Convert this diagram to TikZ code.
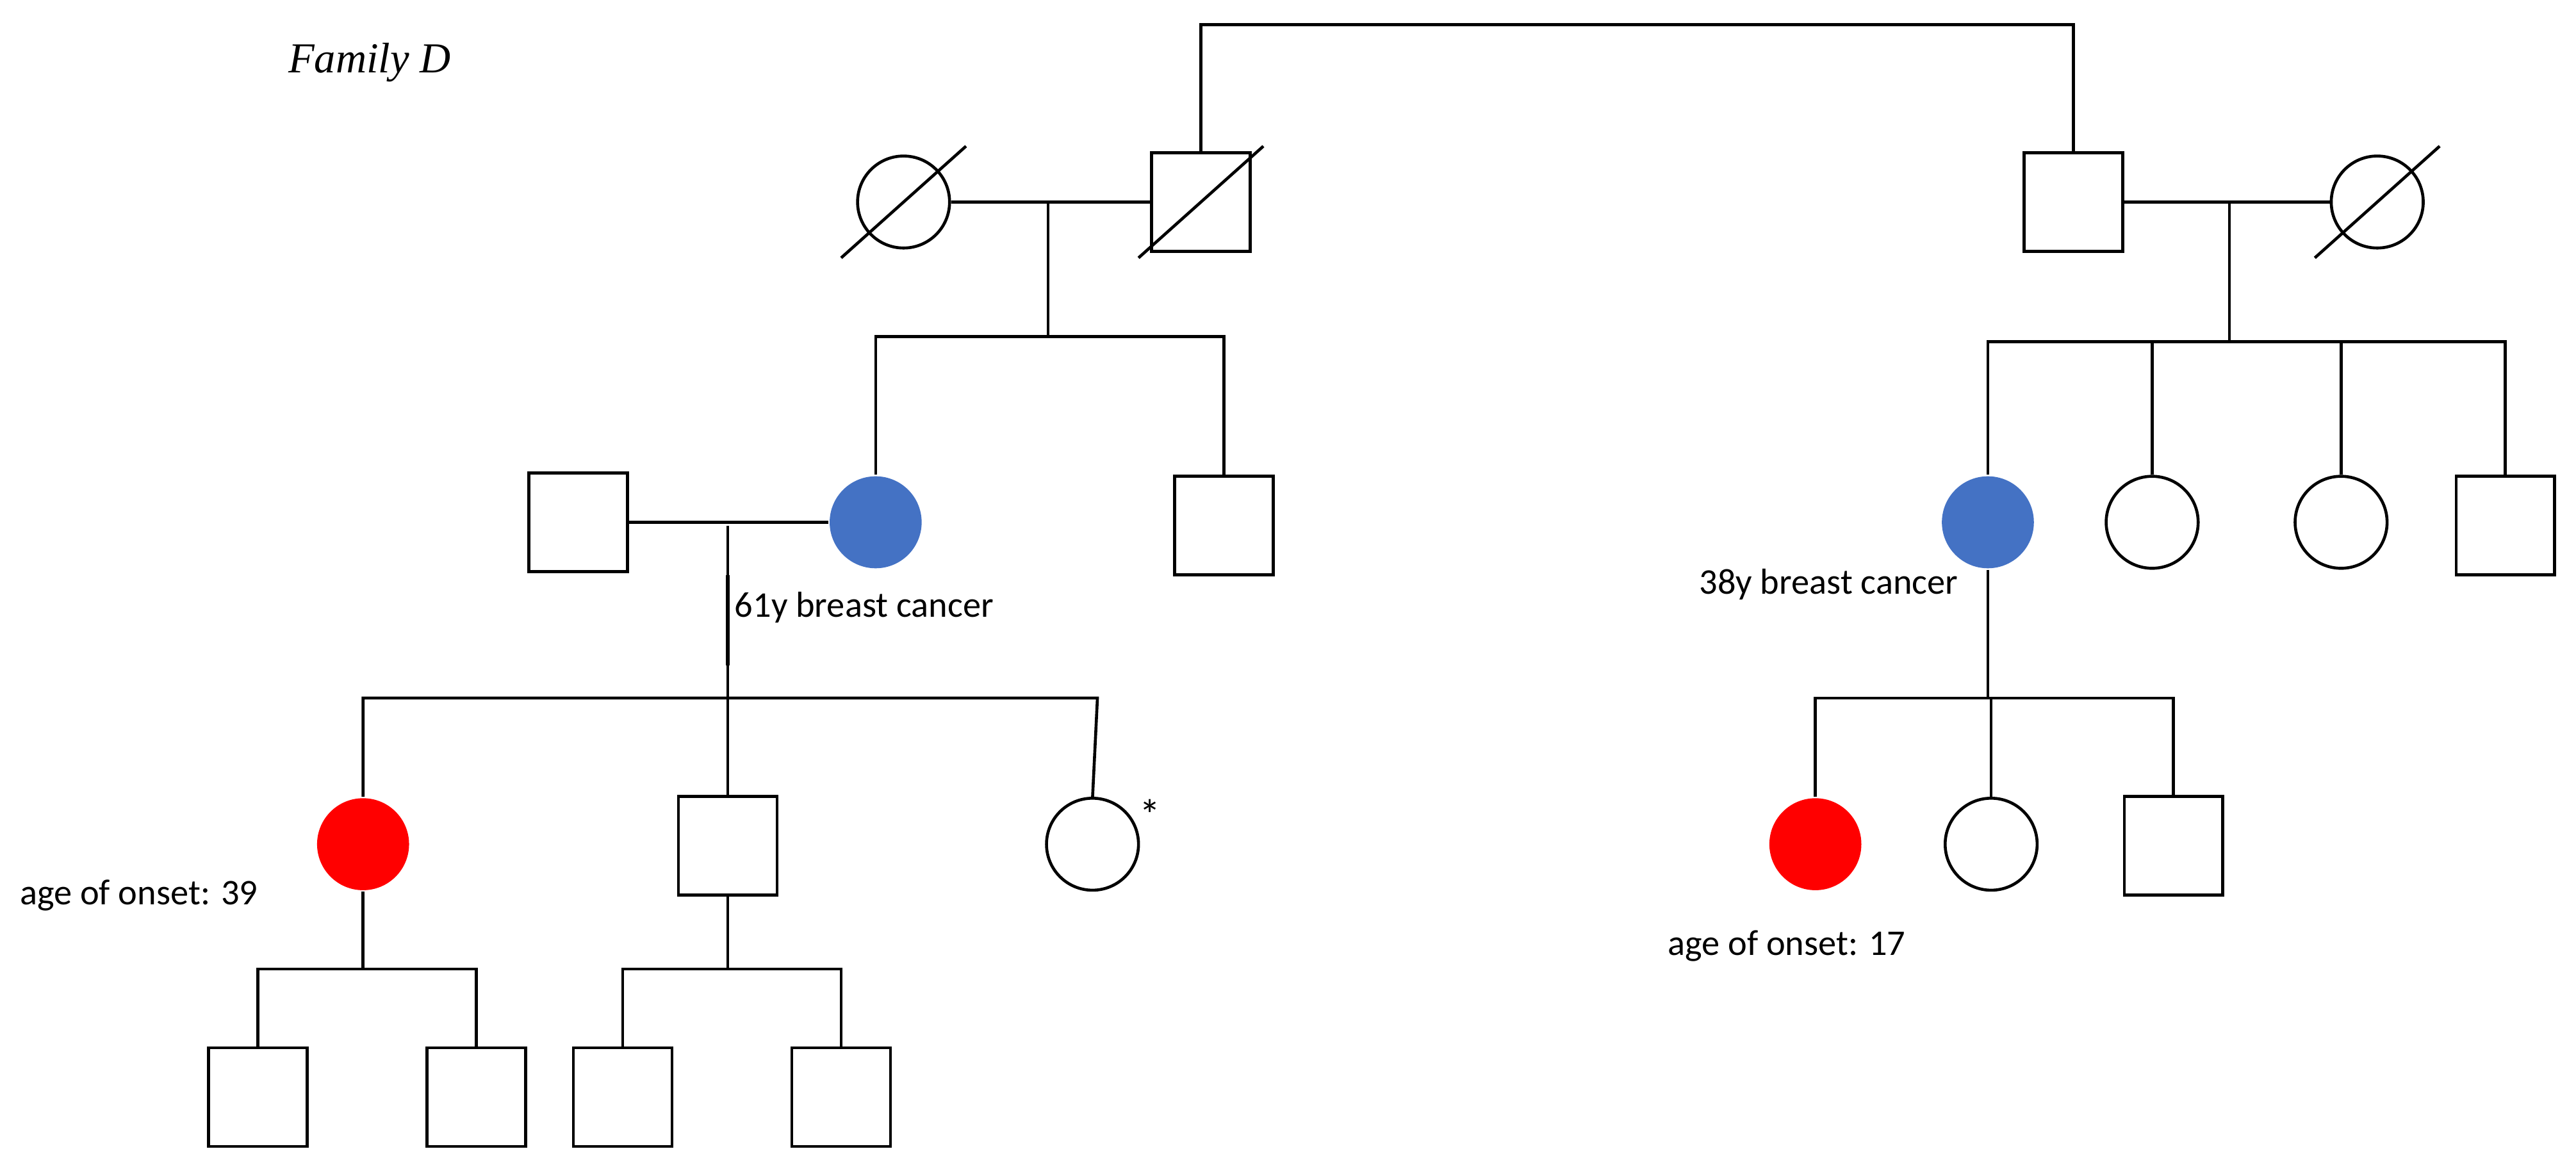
\documentclass[tikz,border=0pt]{standalone}
\usepackage{fontspec}
\setmainfont{Carlito}
\newfontfamily\serifit{Liberation Serif}
\tikzset{
 every picture/.style={x=1pt,y=-1pt},
 ln/.style={line width=1.8pt},
 sq/.style={draw,line width=1.8pt,minimum size=60pt,inner sep=0pt},
 ci/.style={draw,circle,line width=1.8pt,minimum size=56pt,inner sep=0pt},
 blue/.style={ci,draw=none,fill={rgb,255:red,68;green,114;blue,196}},
 redc/.style={ci,draw=none,fill=red},
 lbl/.style={font=\fontsize{22}{24}\selectfont,inner sep=0pt}
}
\begin{document}
\begin{tikzpicture}
\useasboundingbox (0,0) rectangle (1568,709);
\node[font=\serifit\itshape\fontsize{26}{28}\selectfont,anchor=west] (title) at (172,38) {Family D};
% Gen I
\node[ci] (gf1) at (550,123) {};
\node[sq] (gm1) at (731,123) {};
\node[sq] (gm2) at (1262,123) {};
\node[ci] (gf2) at (1447,123) {};
\foreach \n in {gf1,gm1,gf2} \draw[ln] (\n.center)+(-38,34) -- +(38,-34);
\draw[ln] (gm1.north) -- (731,15) -- (1262,15) -- (gm2.north);
\draw[ln] (gf1.east) -- (gm1.west);
\draw[ln] (gm2.east) -- (gf2.west);
% Gen II left
\node[sq] (h1) at (352,318) {};
\node[blue] (m1) at (533,318) {};
\node[sq] (u1) at (745,320) {};
\draw[ln] (638,123) -- (638,205);
\draw[ln] (m1.north) -- (533,205) -- (745,205) -- (u1.north);
\draw[ln] (h1.east) -- (m1.west);
\node[lbl,anchor=west] (t61) at (447,370) {61y breast cancer};
% Gen II right
\coordinate (rd) at (1357,208);
\draw[ln] (1357,123) -- (rd);
\node[blue] (m2) at (1210,318) {};
\node[ci] (a2) at (1310,318) {};
\node[ci] (a3) at (1425,318) {};
\node[sq] (u2) at (1525,320) {};
\draw[ln] (m2.north) -- (1210,208) -- (1525,208) -- (u2.north);
\draw[ln] (a2.north) -- (1310,208);
\draw[ln] (a3.north) -- (1425,208);
\node[lbl,anchor=east] (t38) at (1192,356) {38y breast cancer};
% Gen III left
\node[redc] (p1) at (221,514) {};
\node[sq] (b1) at (443,515) {};
\node[ci] (s1) at (665,514) {};
\node[font=\fontsize{26}{28}\selectfont,inner sep=0pt] (star) at (700,496) {*};
\draw[ln] (443,320) -- (443,425);
\draw[line width=2.6pt] (443,350) -- (443,405);
\draw[ln] (p1.north) -- (221,425) -- (668,425) -- (665,486);
\draw[ln] (b1.north) -- (443,425);
\node[lbl,anchor=west] (o39) at (12,545) {age of onset: 39};
% Gen III right
\node[redc] (p2) at (1105,514) {};
\node[ci] (c2) at (1212,514) {};
\node[sq] (c3) at (1323,515) {};
\draw[ln] (m2.south) -- (1210,425);
\draw[ln] (p2.north) -- (1105,425) -- (1323,425) -- (c3.north);
\draw[ln] (c2.north) -- (1212,425);
\node[lbl,anchor=west] (o17) at (1015,576) {age of onset: 17};
% Gen IV
\node[sq] (g1) at (157,668) {};
\node[sq] (g2) at (290,668) {};
\node[sq] (g3) at (379,668) {};
\node[sq] (g4) at (512,668) {};
\draw[ln] (p1.south) -- (221,590);
\draw[ln] (g1.north) -- (157,590) -- (290,590) -- (g2.north);
\draw[ln] (b1.south) -- (443,590);
\draw[ln] (g3.north) -- (379,590) -- (512,590) -- (g4.north);
\end{tikzpicture}
\end{document}
